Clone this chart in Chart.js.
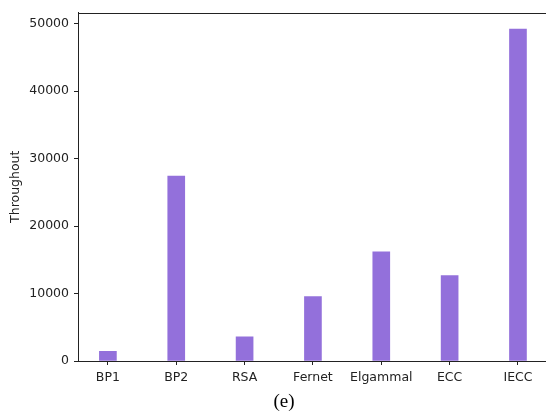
<!DOCTYPE html>
<html>
<head>
<meta charset="utf-8">
<script src="https://cdn.jsdelivr.net/npm/chart.js@4"></script>
<style>
  html,body{margin:0;padding:0;background:#fff;overflow:hidden;}
  #wrap{position:relative;width:546px;height:414px;}
  #caption{position:absolute;left:0;width:568px;top:390px;text-align:center;
    font-family:"Liberation Serif","Times New Roman",serif;font-size:19px;color:#000;}
</style>
</head>
<body>
<div id="wrap">
  <canvas id="chart" width="546" height="414"></canvas>
  <div id="caption">(e)</div>
</div>
<script>
// DATA
const categories = ["BP1","BP2","RSA","Fernet","Elgammal","ECC","IECC"];
const throughput = [1430, 27400, 3600, 9560, 16200, 12650, 49200];
const yTicks = [0, 10000, 20000, 30000, 40000, 50000];

const font = {family:"'DejaVu Sans', sans-serif", size:12.5};

// top spine (right spine falls just outside the picture)
const frame = {
  id:"frame",
  afterDraw(c){
    const a=c.chartArea, ctx=c.ctx;
    ctx.save();
    ctx.strokeStyle="#222";
    ctx.lineWidth=1;
    ctx.beginPath();
    ctx.moveTo(Math.round(a.left),Math.round(a.top)+0.5);
    ctx.lineTo(c.width,Math.round(a.top)+0.5);
    ctx.stroke();
    ctx.restore();
  }
};

new Chart(document.getElementById("chart"),{
  type:"bar",
  data:{
    datasets:[{
      data:throughput.map((v,i)=>({x:i,y:v})),
      backgroundColor:"#9370DB",
      borderWidth:0,
      barThickness:17
    }]
  },
  options:{
    responsive:false,
    animation:false,
    layout:{autoPadding:false,padding:{top:11,left:0,right:0,bottom:0}},
    plugins:{legend:{display:false},tooltip:{enabled:false}},
    scales:{
      x:{
        type:"linear",
        offset:false,
        min:-0.4375,
        max:6.41,
        afterBuildTicks(s){ s.ticks=categories.map((c,i)=>({value:i})); },
        afterFit(s){ s.height=53; },
        grid:{display:true,offset:false,drawOnChartArea:false,drawTicks:true,tickLength:4,color:"#222"},
        border:{color:"#222"},
        ticks:{font,color:"#222",padding:5,maxRotation:0,autoSkip:false,
          callback:(v)=>categories[v]}
      },
      y:{
        min:0,
        max:51660,
        afterBuildTicks(s){ s.ticks=yTicks.map(v=>({value:v})); },
        afterFit(s){ s.width=78; },
        grid:{display:true,drawOnChartArea:false,drawTicks:true,tickLength:4,color:"#222"},
        border:{color:"#222"},
        ticks:{font,color:"#222",padding:5,callback:(v)=>String(v)},
        title:{display:true,text:"Throughout",font,color:"#222",padding:{top:8,bottom:0}}
      }
    }
  },
  plugins:[frame]
});
</script>
</body>
</html>
